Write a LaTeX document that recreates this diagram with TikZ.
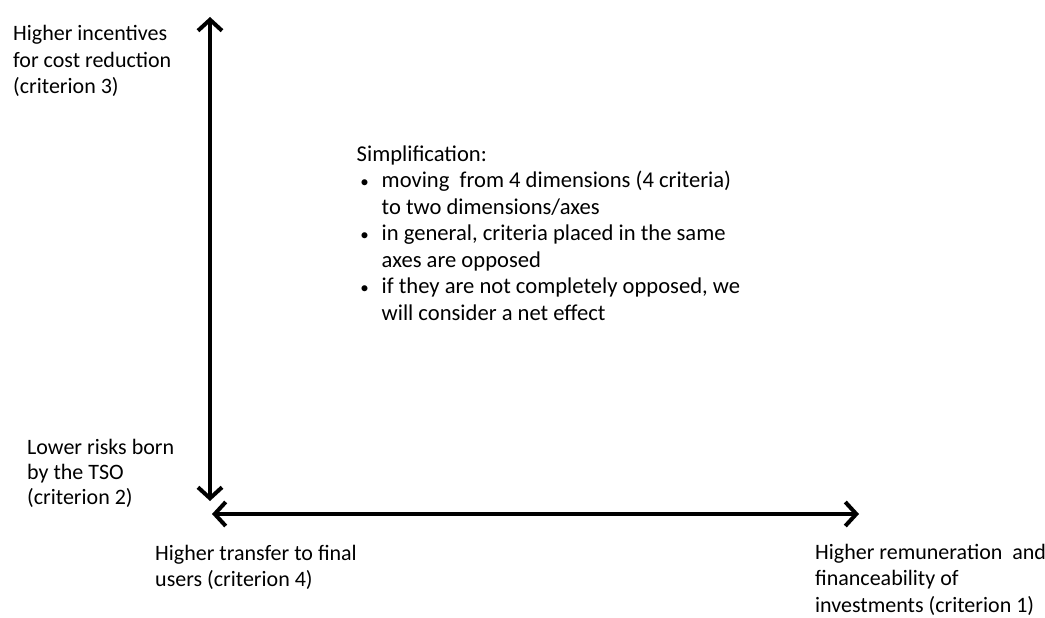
\documentclass[tikz,border=0pt]{standalone}
\usepackage{fontspec}
\setmainfont{Carlito}
\usetikzlibrary{arrows.meta}
\begin{document}
\begin{tikzpicture}[x=1pt,y=-1pt,
  lbl/.style={anchor=base west, inner sep=0pt, align=left, font=\fontsize{22}{27}\selectfont},
  axis/.style={line width=4pt, {Straight Barb[length=11pt,width=24pt]}-{Straight Barb[length=11pt,width=24pt]}}]
\useasboundingbox (0,0) rectangle (1045,618);
\fill[white] (0,0) rectangle (1045,618);
\coordinate (ytop) at (210,17);
\coordinate (ybot) at (210,501);
\coordinate (xleft) at (212,514);
\coordinate (xright) at (859,514);
\draw[axis] (ybot) -- (ytop);
\draw[axis] (xleft) -- (xright);
\node[lbl] (c3) at (13,94) {Higher incentives\\for cost reduction\\(criterion 3)};
\node[lbl, font=\fontsize{22}{25}\selectfont] (c2) at (27,504) {Lower risks born\\by the TSO\\(criterion 2)};
\node[lbl, font=\fontsize{22}{26}\selectfont] (c4) at (155,586) {Higher transfer to final\\users (criterion 4)};
\node[lbl, font=\fontsize{22}{26.5}\selectfont] (c1) at (815,612) {Higher remuneration~ and\\financeability of\\investments (criterion 1)};
\node[lbl, font=\fontsize{22.6}{26.5}\selectfont] (simp) at (356.5,320) {Simplification:\\
\makebox[25pt][l]{\,{\fontsize{17}{17}\selectfont •}}moving~ from 4 dimensions (4 criteria)\\
\hspace*{25pt}to two dimensions/axes\\
\makebox[25pt][l]{\,{\fontsize{17}{17}\selectfont •}}in general, criteria placed in the same\\
\hspace*{25pt}axes are opposed\\
\makebox[25pt][l]{\,{\fontsize{17}{17}\selectfont •}}if they are not completely opposed, we\\
\hspace*{25pt}will consider a net effect};
\end{tikzpicture}
\end{document}
